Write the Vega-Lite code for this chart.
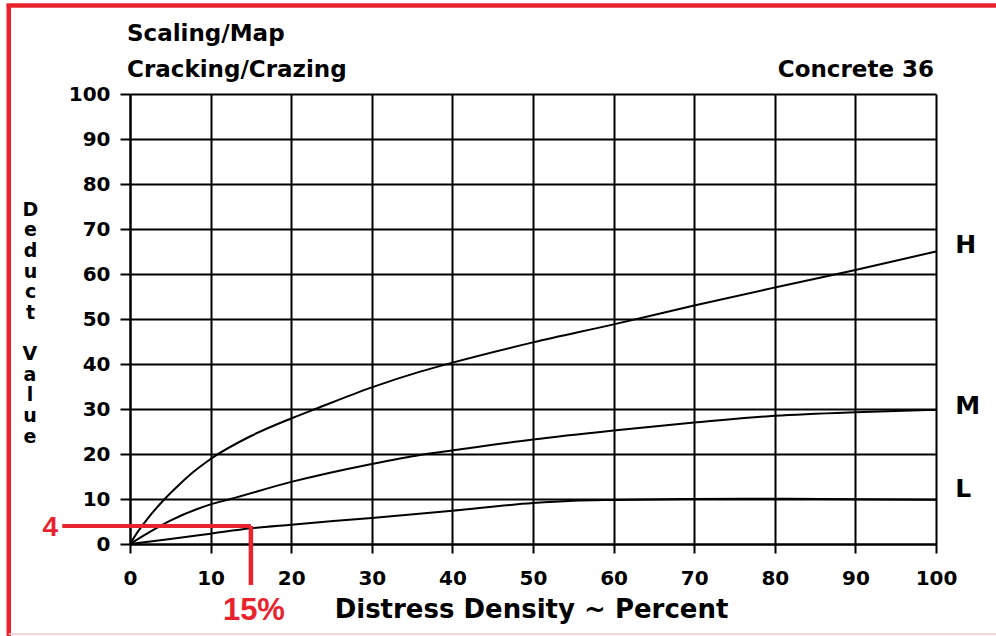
{
  "$schema": "https://vega.github.io/schema/vega-lite/v6.json",
  "width": 806,
  "height": 450,
  "autosize": {"type": "none"},
  "padding": {"left": 130, "top": 94, "right": 60, "bottom": 92},
  "background": "white",
  "data": {"values": [{}]},
  "config": {
    "view": {"stroke": null},
    "font": "DejaVu Sans",
    "axis": {
      "domainColor": "#000",
      "domainWidth": 2,
      "grid": true,
      "gridColor": "#000",
      "gridWidth": 2,
      "gridOpacity": 1,
      "tickColor": "#000",
      "tickWidth": 2,
      "labelColor": "#000",
      "labelFont": "DejaVu Sans",
      "labelFontWeight": "bold",
      "labelFontSize": 20,
      "labelFlush": false,
      "labelOverlap": false,
      "titleColor": "#000",
      "titleFont": "DejaVu Sans",
      "titleFontWeight": "bold"
    },
    "axisX": {
      "tickSize": 9,
      "labelPadding": 15,
      "titleFontSize": 26,
      "titleAlign": "center",
      "titleBaseline": "alphabetic",
      "titleX": 401,
      "titleY": 73
    },
    "axisY": {
      "tickSize": 10,
      "labelPadding": 10,
      "titleAngle": 0,
      "titleAlign": "center",
      "titleBaseline": "alphabetic",
      "titleX": -100,
      "titleY": 121,
      "titleFontSize": 19,
      "titleLineHeight": 20.7
    }
  },
  "datasets": {
    "curves": [
      {"level": "H", "density": 0, "deduct": 0},
      {"level": "H", "density": 1, "deduct": 2.8},
      {"level": "H", "density": 2, "deduct": 5.2},
      {"level": "H", "density": 3, "deduct": 7.4},
      {"level": "H", "density": 4.3, "deduct": 10},
      {"level": "H", "density": 6, "deduct": 13},
      {"level": "H", "density": 8, "deduct": 16.2},
      {"level": "H", "density": 10, "deduct": 18.9},
      {"level": "H", "density": 15, "deduct": 24},
      {"level": "H", "density": 20, "deduct": 27.9},
      {"level": "H", "density": 23, "deduct": 30},
      {"level": "H", "density": 30, "deduct": 34.8},
      {"level": "H", "density": 36, "deduct": 38.3},
      {"level": "H", "density": 40, "deduct": 40.3},
      {"level": "H", "density": 50, "deduct": 44.8},
      {"level": "H", "density": 60, "deduct": 48.8},
      {"level": "H", "density": 70, "deduct": 53},
      {"level": "H", "density": 80, "deduct": 57},
      {"level": "H", "density": 90, "deduct": 60.9},
      {"level": "H", "density": 100, "deduct": 65},
      {"level": "M", "density": 0, "deduct": 0},
      {"level": "M", "density": 2, "deduct": 2.2},
      {"level": "M", "density": 5, "deduct": 5.2},
      {"level": "M", "density": 10, "deduct": 8.8},
      {"level": "M", "density": 12.5, "deduct": 10},
      {"level": "M", "density": 20, "deduct": 13.8},
      {"level": "M", "density": 30, "deduct": 17.8},
      {"level": "M", "density": 36, "deduct": 19.8},
      {"level": "M", "density": 40, "deduct": 20.8},
      {"level": "M", "density": 50, "deduct": 23.2},
      {"level": "M", "density": 60, "deduct": 25.2},
      {"level": "M", "density": 70, "deduct": 27},
      {"level": "M", "density": 80, "deduct": 28.5},
      {"level": "M", "density": 90, "deduct": 29.3},
      {"level": "M", "density": 100, "deduct": 29.8},
      {"level": "L", "density": 0, "deduct": 0},
      {"level": "L", "density": 5, "deduct": 1.1},
      {"level": "L", "density": 10, "deduct": 2.3},
      {"level": "L", "density": 15, "deduct": 3.5},
      {"level": "L", "density": 20, "deduct": 4.3},
      {"level": "L", "density": 30, "deduct": 5.8},
      {"level": "L", "density": 40, "deduct": 7.4},
      {"level": "L", "density": 50, "deduct": 9.1},
      {"level": "L", "density": 55, "deduct": 9.6},
      {"level": "L", "density": 60, "deduct": 9.8},
      {"level": "L", "density": 70, "deduct": 10},
      {"level": "L", "density": 80, "deduct": 10.05},
      {"level": "L", "density": 90, "deduct": 9.95},
      {"level": "L", "density": 100, "deduct": 9.85}
    ],
    "levels": [
      {"level": "H", "density": 102.4, "deduct": 66.4},
      {"level": "M", "density": 102.4, "deduct": 30.7},
      {"level": "L", "density": 102.4, "deduct": 12.2}
    ]
  },
  "layer": [
    {
      "data": {"name": "curves"},
      "mark": {"type": "line", "color": "#000", "strokeWidth": 2, "interpolate": "monotone"},
      "encoding": {
        "x": {
          "field": "density",
          "type": "quantitative",
          "scale": {"domain": [0, 100], "nice": false, "zero": false},
          "axis": {
            "title": "Distress Density ~ Percent",
            "values": [0, 10, 20, 30, 40, 50, 60, 70, 80, 90, 100]
          }
        },
        "y": {
          "field": "deduct",
          "type": "quantitative",
          "scale": {"domain": [0, 100], "nice": false, "zero": false},
          "axis": {
            "title": ["D", "e", "d", "u", "c", "t"],
            "values": [0, 10, 20, 30, 40, 50, 60, 70, 80, 90, 100]
          }
        },
        "detail": {"field": "level"}
      }
    },
    {
      "mark": {"type": "text", "align": "center", "baseline": "alphabetic", "font": "DejaVu Sans", "fontWeight": "bold", "fontSize": 19, "color": "#000", "lineHeight": 20.7, "text": ["V", "a", "l", "u", "e"]},
      "encoding": {"x": {"datum": -12.41}, "y": {"datum": 40.91}}
    },
    {
      "data": {"name": "levels"},
      "mark": {"type": "text", "align": "left", "baseline": "middle", "font": "DejaVu Sans", "fontWeight": "bold", "fontSize": 25, "color": "#000"},
      "encoding": {
        "x": {"field": "density", "type": "quantitative"},
        "y": {"field": "deduct", "type": "quantitative"},
        "text": {"field": "level"}
      }
    },
    {
      "mark": {"type": "text", "align": "left", "baseline": "alphabetic", "font": "DejaVu Sans", "fontWeight": "bold", "fontSize": 23, "color": "#000", "lineHeight": 36, "dx": -3, "text": ["Scaling/Map", "Cracking/Crazing"]},
      "encoding": {"x": {"datum": 0}, "y": {"datum": 111.8}}
    },
    {
      "mark": {"type": "text", "align": "right", "baseline": "alphabetic", "font": "DejaVu Sans", "fontWeight": "bold", "fontSize": 23, "color": "#000", "dx": -2, "text": "Concrete 36"},
      "encoding": {"x": {"datum": 100}, "y": {"datum": 103.8}}
    },
    {
      "mark": {"type": "rule", "color": "#e8232e", "strokeWidth": 4},
      "encoding": {"x": {"datum": -8.4}, "x2": {"datum": 15}, "y": {"datum": 4}}
    },
    {
      "mark": {"type": "rule", "color": "#e8232e", "strokeWidth": 4.5},
      "encoding": {"x": {"datum": 15}, "y": {"datum": 4}, "y2": {"datum": -9.1}}
    },
    {
      "mark": {"type": "text", "align": "center", "baseline": "middle", "font": "Liberation Sans", "fontWeight": "bold", "fontSize": 28, "color": "#e8232e", "text": "4"},
      "encoding": {"x": {"datum": -9.9}, "y": {"datum": 3.6}}
    },
    {
      "mark": {"type": "text", "align": "center", "baseline": "alphabetic", "font": "Liberation Sans", "fontWeight": "bold", "fontSize": 31, "color": "#e8232e", "dx": 3, "text": "15%"},
      "encoding": {"x": {"datum": 15}, "y": {"datum": -16.9}}
    },
    {
      "mark": {"type": "rule", "color": "#e8232e", "strokeWidth": 4.5},
      "encoding": {"x": {"datum": -15.3}, "x2": {"datum": 108}, "y": {"datum": 119.67}}
    },
    {
      "mark": {"type": "rule", "color": "#e8232e", "strokeWidth": 4.5},
      "encoding": {"x": {"datum": -15.04}, "y": {"datum": 120}, "y2": {"datum": -21}}
    },
    {
      "mark": {"type": "rule", "color": "#f4c9cc", "strokeWidth": 1.5},
      "encoding": {"x": {"datum": -15.04}, "x2": {"datum": 108}, "y": {"datum": -20}}
    }
  ]
}
